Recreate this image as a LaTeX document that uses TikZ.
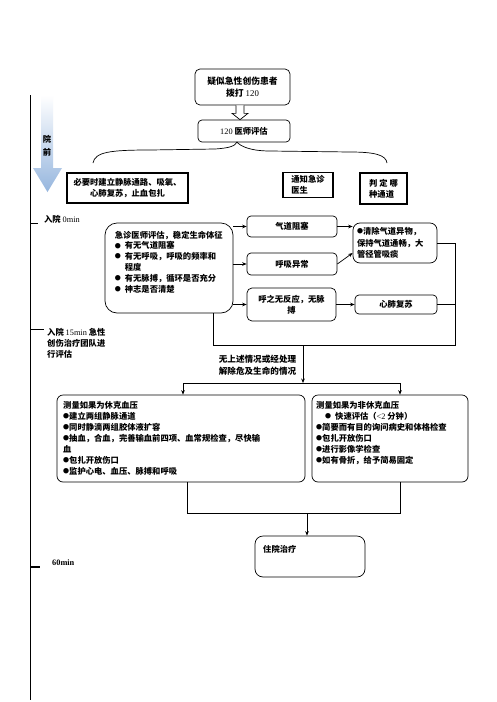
\documentclass[tikz,border=0pt]{standalone}
\usepackage{fontspec}
\setmainfont{Liberation Serif}
\newfontfamily\cjk{Noto Sans CJK SC}
\usetikzlibrary{arrows.meta,calc}
\newcommand\lat[1]{{\rmfamily\mdseries #1}}
\newcommand\bd{\raisebox{0.9pt}{\fontsize{6}{6}\selectfont ●}}
\newcommand\bul{\makebox[10pt][l]{\bd}}
\definecolor{arrowblue}{RGB}{150,182,222}
\begin{document}
\begin{tikzpicture}[x=1pt,y=-1pt,
  every node/.style={font=\cjk\bfseries\fontsize{8.3}{10.8}\selectfont, inner sep=0pt},
  ln/.style={line width=0.7pt},
  arr/.style={ln,-{Stealth[length=4.5pt,width=3.6pt]}},
  sbox/.style={draw,ln},
  tbox/.style={draw,line width=1.1pt},
  txt/.style={anchor=north west,align=left}]
\fill[white] (0,0) rectangle (496,702);
\useasboundingbox (0,0) rectangle (496,702);

% timeline
\draw[line width=0.8pt] (30,95) -- (30,700);
\shade[top color=white, bottom color=arrowblue] (41,95) -- (53,95) -- (53,168) -- (62,168) -- (47.5,192) -- (33,168) -- (41,168) -- cycle;
\node[align=center,font=\cjk\bfseries\fontsize{8.3}{13}\selectfont] (yq) at (47,146) {院\\前};
\draw[ln] (30,223) -- (38,223);
\node[anchor=west] (t0) at (44,219) {入院 \lat{0min}};
\draw[ln] (30,329) -- (44,329);
\node[txt,font=\cjk\bfseries\fontsize{8.3}{11}\selectfont] (t15) at (47,328) {入院 \lat{15min} 急性\\创伤治疗团队进\\行评估};
\draw[line width=2pt] (30,567) -- (40,567);
\node[anchor=west] (t60) at (52,563) {{\rmfamily\bfseries 60min}};

% top
\node[sbox, rounded corners=5pt, minimum width=95pt, minimum height=36pt, align=center,
  font=\cjk\bfseries\fontsize{8.8}{12.5}\selectfont] (t1) at (242.5,87) {疑似急性创伤患者\\拨打 \lat{120}};
\node[sbox, rounded corners=4pt, minimum width=92pt, minimum height=22pt] (t2) at (244,131) {\lat{120} 医师评估};
\coordinate (ha) at ($(t1.south)+(-2.5,0)$);
\draw[ln,fill=white] ($(ha)+(-4,0)$) -- ++(0,8) -- ++(-4,0) -- (ha |- t2.north) -- ($(ha)+(8,8)$) -- ++(-4,0) -- ++(0,-8);

% brace
\coordinate (bt) at (237,142);
\draw[ln] (93,163) .. controls (95,152) and (110,150) .. (150,150) -- (215,149) .. controls (230,148) and (235,146) .. (bt)
  .. controls (240,146) and (250,151) .. (270,151) -- (350,152) .. controls (375,152) and (386,155) .. (387,163);

\node[tbox, minimum width=121pt, minimum height=30pt, align=center] (L1) at (127.5,188) {必要时建立静脉通路、吸氧、\\心肺复苏，止血包扎};
\node[tbox, minimum width=50pt, minimum height=25pt, align=left] (N) at (308,185) {通知急诊\\医生};
\node[tbox, minimum width=47pt, minimum height=31pt, align=left] (P) at (383.5,188.5) {判 定 哪\\种通道};

% evaluation
\node[sbox, rounded corners=12pt, minimum width=128pt, minimum height=90pt] (E) at (169,268) {};
\node[txt] (Et) at ($(E.north west)+(10,8)$) {急诊医师评估，稳定生命体征\\
\bul 有无气道阻塞\\
\bul 有无呼吸，呼吸的频率和\\
\hphantom{\bul}程度\\
\bul 有无脉搏，循环是否充分\\
\bul 神志是否清楚};

\node[sbox, rounded corners=4pt, minimum width=90pt, minimum height=21pt] (Q1) at (292,226.5) {气道阻塞};
\node[sbox, rounded corners=4pt, minimum width=90pt, minimum height=22pt] (Q2) at (292,264) {呼吸异常};
\node[sbox, rounded corners=5pt, minimum width=89pt, minimum height=33pt, align=center] (Q3) at (291.5,304.5) {呼之无反应，无脉\\搏};
\node[sbox, rounded corners=7pt, minimum width=84pt, minimum height=40pt, text width=76pt, align=left,
  font=\cjk\bfseries\fontsize{8.3}{11.5}\selectfont] (C1) at (395,243) {\bd 清除气道异物，\\保持气道通畅，大\\管径管吸痰};
\node[sbox, rounded corners=4pt, minimum width=82pt, minimum height=19pt] (C2) at (396,304.5) {心肺复苏};

\draw[arr] (E.east |- Q1.west) -- (Q1.west);
\draw[arr] (E.east |- Q2.west) -- (Q2.west);
\draw[arr] (E.east |- Q3.west) -- (Q3.west);
\draw[arr] (Q1.east) -- (C1.west |- Q1.east);
\draw[arr] (Q2.east) -- ($(C1.west)+(0,10)$);
\draw[arr] (Q3.east) -- (C2.west);

\coordinate (rc) at (455,345);
\coordinate (lc) at (213,345);
\draw[ln] (C1.east) -| (rc) -- (lc) -- (lc |- E.south);
\draw[ln] (C2.east) -- (C2.east -| rc);

\coordinate (dn) at (303,345);
\coordinate (s1) at (183,383);
\coordinate (s2) at (400,383);
\draw[arr] (dn) -- (dn |- s1);
\node[align=center,font=\cjk\bfseries\fontsize{8.6}{12}\selectfont] (cond) at (257.5,365) {无上述情况或经处理\\解除危及生命的情况};

% bottom boxes
\node[sbox, rounded corners=6pt, minimum width=248pt, minimum height=87pt] (B1) at (181,438.5) {};
\node[sbox, rounded corners=6pt, minimum width=156pt, minimum height=87pt] (B2) at (390,438.5) {};
\draw[ln] (s1) -- (s2);
\draw[arr] (s1) -- (s1 |- B1.north);
\draw[arr] (s2) -- (s2 |- B2.north);

\node[txt,font=\cjk\bfseries\fontsize{8.3}{11}\selectfont] (B1t) at (63,401) {测量如果为休克血压\\
\bd 建立两组静脉通道\\
\bd 同时静滴两组胶体液扩容\\
\bd 抽血，合血，完善输血前四项、血常规检查，尽快输\\
血\\
\bd 包扎开放伤口\\
\bd 监护心电、血压、脉搏和呼吸};
\node[txt,font=\cjk\bfseries\fontsize{8.3}{11}\selectfont] (B2t) at (316,401) {测量如果为非休克血压\\
\hspace{9pt}\bd\hspace{4pt}快速评估（\lat{<2} 分钟）\\
\bd 简要而有目的询问病史和体格检查\\
\bd 包扎开放伤口\\
\bd 进行影像学检查\\
\bd 如有骨折，给予简易固定};

\node[sbox, rounded corners=8pt, minimum width=110pt, minimum height=41pt] (H) at (310,556.5) {};
\node[txt] (Ht) at (263,545) {住院治疗};
\coordinate (m1) at (187,513);
\coordinate (m2) at (400,513);
\coordinate (m3) at (307,513);
\draw[ln] (m1 |- B1.south) -- (m1) -- (m2) -- (m2 |- B2.south);
\draw[arr] (m3) -- (m3 |- H.north);
\end{tikzpicture}
\end{document}
